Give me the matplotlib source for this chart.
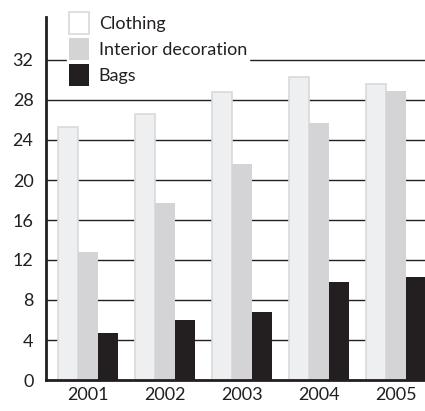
import numpy as np
import matplotlib
matplotlib.use('Agg')
import matplotlib.pyplot as plt

years = ['2001', '2002', '2003', '2004', '2005']
clothing = [25.3, 26.6, 28.8, 30.3, 29.6]
interior = [12.8, 17.7, 21.6, 25.7, 28.9]
bags = [4.7, 6.0, 6.8, 9.8, 10.3]
yticks = [0, 4, 8, 12, 16, 20, 24, 28, 32]

plt.rcParams['font.family'] = ['Lato', 'DejaVu Sans']

fig = plt.figure(figsize=(4.25, 4.11), dpi=100)
ax = fig.add_axes([46 / 425, 31 / 411, 1 - 46 / 425, (380 - 17) / 411])

x = np.arange(len(years))
w = 0.26
ax.bar(x - w, clothing, w, color='#eeeff0', edgecolor='#d9d9da', linewidth=1.2,
       label='Clothing', zorder=3)
ax.bar(x, interior, w, color='#d4d3d5', edgecolor='#d4d3d5', linewidth=0,
       label='Interior decoration', zorder=3)
ax.bar(x + w, bags, w, color='#231f20', edgecolor='#231f20', linewidth=0,
       label='Bags', zorder=3)

ax.set_xlim(-0.545, 4.377)
ax.set_ylim(0, 36.3)
ax.set_yticks(yticks)
ax.set_yticklabels([str(v) for v in yticks], fontsize=13)
ax.set_xticks(x)
ax.set_xticklabels(years, fontsize=13)
ax.yaxis.grid(True, color='#231f20', linewidth=1.0, zorder=1)
ax.set_axisbelow(True)
ax.tick_params(axis='y', length=0, pad=9, colors='#231f20')
ax.tick_params(axis='x', length=0, pad=5, colors='#231f20')

for s in ['top', 'right']:
    ax.spines[s].set_visible(False)
for s in ['left', 'bottom']:
    ax.spines[s].set_linewidth(2)
    ax.spines[s].set_color('#231f20')
    ax.spines[s].set_zorder(4)

leg = ax.legend(loc='upper left', bbox_to_anchor=(0.055, 1.02), frameon=True,
                fontsize=13, handlelength=1.12, handleheight=1.5,
                labelspacing=0.22, borderpad=0.1, handletextpad=0.55,
                borderaxespad=0)
leg.get_frame().set_edgecolor('white')
leg.get_frame().set_facecolor('white')
leg.get_frame().set_alpha(1)
leg.get_frame().set_boxstyle('square', pad=0)
leg.legend_handles[0].set_facecolor('white')
leg.legend_handles[0].set_edgecolor('#d9d9da')
leg.set_zorder(5)
for t in leg.get_texts():
    t.set_color('#231f20')

fig.savefig('out.png', dpi=100)
